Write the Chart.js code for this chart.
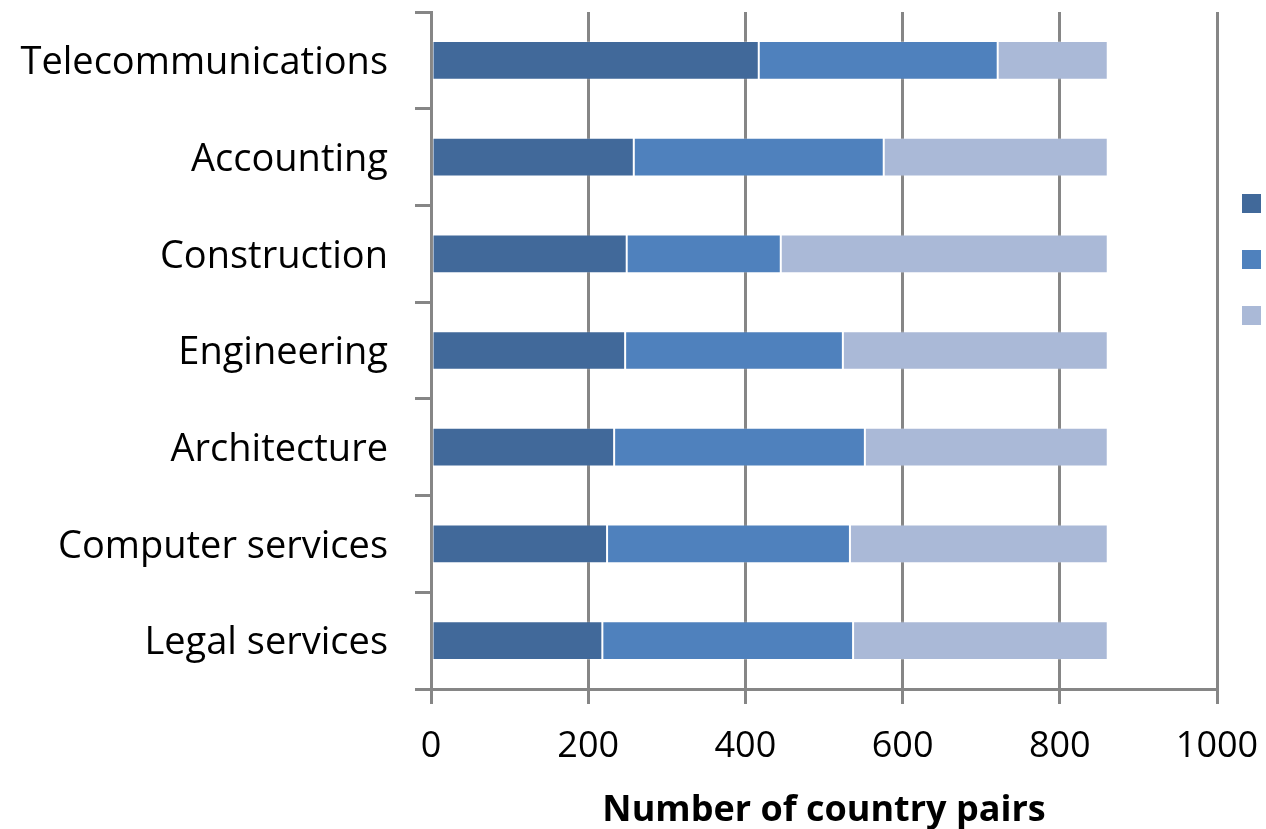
<!DOCTYPE html>
<html>
<head>
<meta charset="utf-8">
<script src="https://cdn.jsdelivr.net/npm/chart.js@4/dist/chart.umd.min.js"></script>
<style>
  html, body { margin: 0; padding: 0; background: #ffffff; }
  #wrap { width: 1266px; height: 829px; position: relative; }
</style>
</head>
<body>
<div id="wrap"><canvas id="chart" width="1266" height="829"></canvas></div>
<script>
// Service sectors, top to bottom
const sectors = [
  'Telecommunications',
  'Accounting',
  'Construction',
  'Engineering',
  'Architecture',
  'Computer services',
  'Legal services'
];

// Country pairs per sector, split into three groups (each bar totals 861)
const groupA = [417, 258, 249, 247, 233, 224, 218];
const groupB = [304, 318, 196, 277, 319, 309, 319];
const groupC = [140, 285, 416, 337, 309, 328, 324];

const xTicks = [0, 200, 400, 600, 800, 1000];

const colA = '#41699a';
const colB = '#4f81bd';
const colC = '#aab9d7';
const axisGray = '#868686';

// Unlabelled colour keys drawn to the right of the plot
const swatchLegend = {
  id: 'swatchLegend',
  afterDraw(chart) {
    const { ctx, chartArea } = chart;
    const size = 19;
    const gap = 56;
    const x = chartArea.right + 25;
    const y0 = chartArea.top + 182;
    ctx.save();
    chart.data.datasets.forEach((ds, i) => {
      ctx.fillStyle = ds.backgroundColor;
      ctx.fillRect(x, y0 + i * gap, size, size);
    });
    ctx.restore();
  }
};

const padLeft = 10, padTop = 12, padRight = 49, padBottom = 0;
const plotBottom = 689;

new Chart(document.getElementById('chart'), {
  type: 'bar',
  data: {
    labels: sectors,
    datasets: [
      { label: '', data: groupA, backgroundColor: colA },
      { label: '', data: groupB, backgroundColor: colB },
      { label: '', data: groupC, backgroundColor: colC }
    ]
  },
  options: {
    indexAxis: 'y',
    responsive: false,
    animation: false,
    devicePixelRatio: 1,
    layout: { padding: { left: padLeft, top: padTop, right: padRight, bottom: padBottom } },
    datasets: {
      bar: {
        categoryPercentage: 1,
        barPercentage: 0.4,
        borderWidth: 1,
        borderColor: 'rgba(255,255,255,0.22)',
        borderSkipped: false
      }
    },
    plugins: {
      legend: { display: false },
      tooltip: { enabled: false }
    },
    scales: {
      x: {
        stacked: true,
        min: 0,
        max: 1000,
        afterBuildTicks(scale) {
          scale.ticks = xTicks.map(v => ({ value: v }));
        },
        afterFit(scale) {
          scale.height = 829 - plotBottom - padBottom;
          scale.paddingLeft = 0;
          scale.paddingRight = 0;
        },
        grid: {
          color: axisGray,
          lineWidth: 3,
          tickLength: 15,
          drawTicks: true
        },
        border: { color: axisGray, width: 3 },
        ticks: {
          color: '#000000',
          padding: 21,
          font: { family: 'Open Sans', size: 36 },
          callback: (value) => String(value)
        },
        title: {
          display: true,
          text: 'Number of country pairs',
          color: '#000000',
          padding: { top: 16, bottom: 0 },
          font: { family: 'Open Sans', size: 36, weight: 'bold', lineHeight: 1.0 }
        }
      },
      y: {
        stacked: true,
        afterFit(scale) {
          scale.width = 431 - padLeft;
          scale.paddingTop = 0;
          scale.paddingBottom = 0;
        },
        grid: {
          color: axisGray,
          lineWidth: 3,
          tickLength: 16,
          drawOnChartArea: false,
          drawTicks: true
        },
        border: { color: axisGray, width: 3 },
        ticks: {
          color: '#000000',
          padding: 27,
          labelOffset: 3,
          font: { family: 'Open Sans', size: 38 }
        }
      }
    }
  },
  plugins: [swatchLegend]
});
</script>
</body>
</html>
